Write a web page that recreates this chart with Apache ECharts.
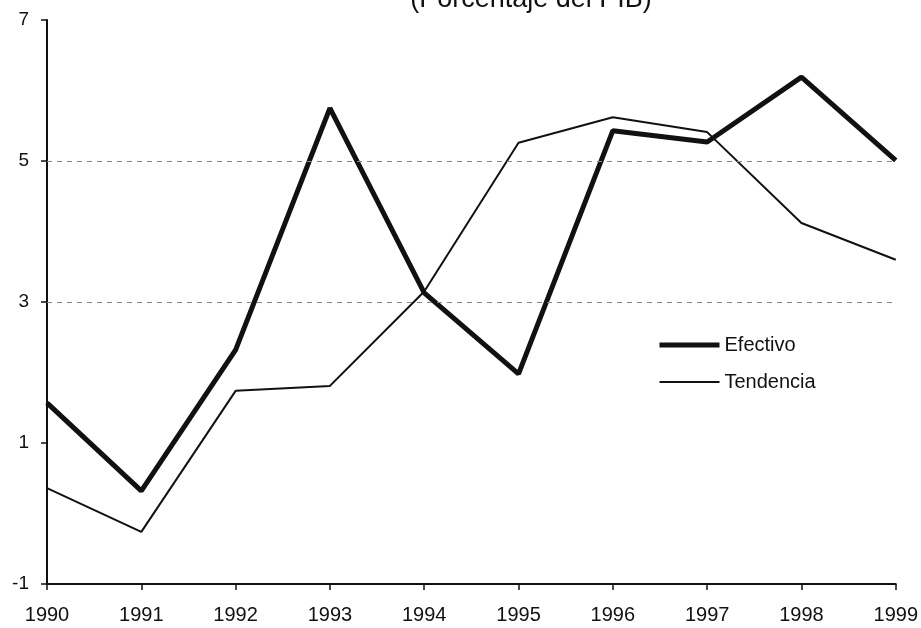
<!DOCTYPE html>
<html><head><meta charset="utf-8">
<script src="https://cdn.jsdelivr.net/npm/echarts@6/dist/echarts.min.js"></script>
<style>html,body{margin:0;padding:0;background:#fff}#c{width:921px;height:628px}</style>
</head><body><div id="c"></div>
<script>
var years = ['1990','1991','1992','1993','1994','1995','1996','1997','1998','1999'];
var efectivo = [1.57, 0.32, 2.32, 5.75, 3.13, 1.98, 5.43, 5.27, 6.19, 5.01];
var tendencia = [0.36, -0.26, 1.74, 1.81, 3.15, 5.26, 5.62, 5.41, 4.12, 3.6];
var refLines = [3, 5];
var title = '(Porcentaje del PIB)';

var chart = echarts.init(document.getElementById('c'));
var font = 'Liberation Sans, Arial, sans-serif';
chart.setOption({
  animation: false,
  backgroundColor: '#fff',
  title: { text: title, left: 526, top: -19, textAlign: 'center',
    textStyle: { fontFamily: font, fontSize: 27, fontWeight: 'normal', color: '#111' } },
  grid: { left: 47, right: 24, top: 20, bottom: 44 },
  legend: { orient: 'vertical', left: 652, top: 330, itemWidth: 60, itemHeight: 14, itemGap: 17,
    itemStyle: { color: 'rgba(0,0,0,0)', borderWidth: 0 },
    lineStyle: { width: 'inherit' },
    textStyle: { fontFamily: font, fontSize: 20, color: '#111' },
    data: ['Efectivo', 'Tendencia'] },
  xAxis: { type: 'category', data: years, boundaryGap: false,
    axisLine: { onZero: false, lineStyle: { color: '#111', width: 2 } },
    axisTick: { alignWithLabel: true, length: 6, lineStyle: { color: '#111', width: 1.5 } },
    axisLabel: { fontFamily: font, fontSize: 20, color: '#111', margin: 21 } },
  yAxis: { type: 'value', min: -1, max: 7, interval: 2,
    axisLine: { show: true, lineStyle: { color: '#111', width: 2 } },
    axisTick: { show: true, length: 6, lineStyle: { color: '#111', width: 1.5 } },
    splitLine: { show: false },
    axisLabel: { fontFamily: font, fontSize: 19, color: '#111', margin: 18 } },
  series: [
    { name: 'Efectivo', type: 'line', data: efectivo, symbol: 'none', z: 3,
      lineStyle: { color: '#111', width: 5 }, itemStyle: { color: '#111' },
      markLine: { silent: true, symbol: 'none', label: { show: false },
        lineStyle: { color: '#888', type: [5, 5], width: 1 },
        data: refLines.map(function (v) { return { yAxis: v }; }) } },
    { name: 'Tendencia', type: 'line', data: tendencia, symbol: 'none', z: 2,
      lineStyle: { color: '#111', width: 2 }, itemStyle: { color: '#111' } }
  ]
});
</script></body></html>
